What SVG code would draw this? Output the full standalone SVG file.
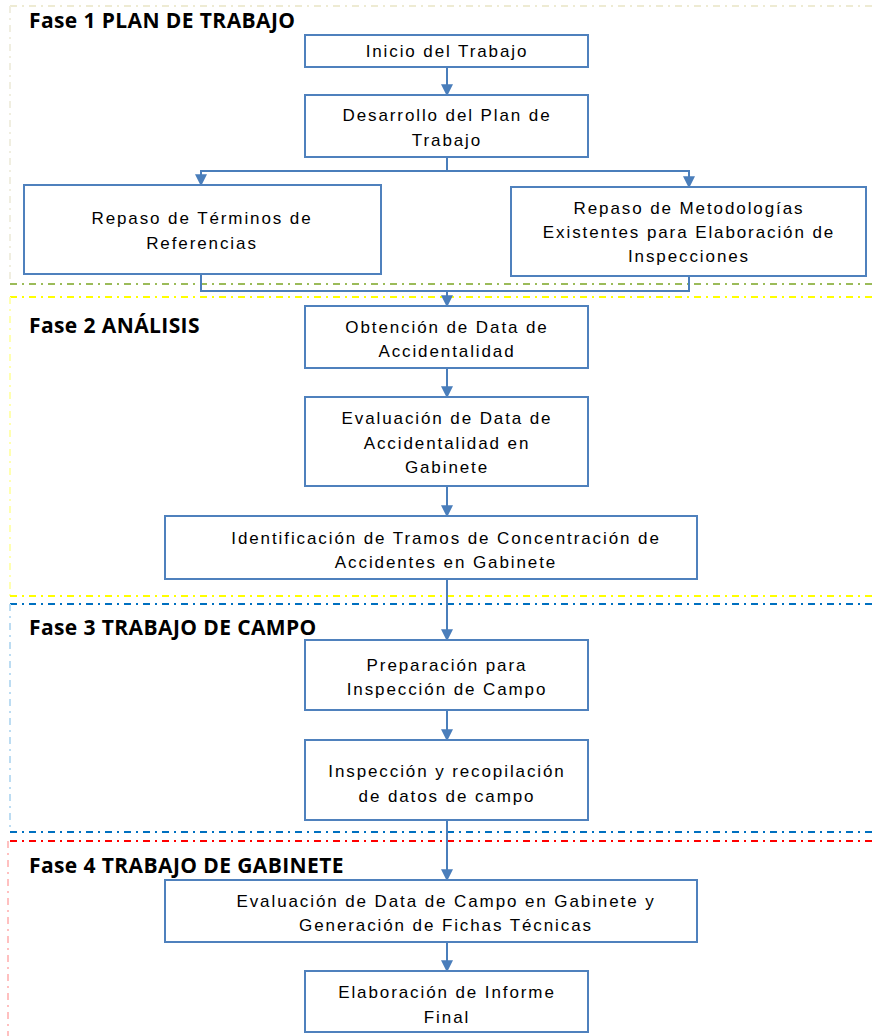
<svg xmlns="http://www.w3.org/2000/svg" width="872" height="1036" viewBox="0 0 872 1036">
<defs>
<style>
.box{fill:#fff;stroke:#4f81bd;stroke-width:2}
.t{font-family:"Liberation Sans",Arial,sans-serif;font-size:17px;fill:#000;text-anchor:middle;letter-spacing:1.9px}
.h{font-family:"Open Sans","Liberation Sans",sans-serif;font-weight:bold;font-size:21px;fill:#000;letter-spacing:0.4px}
.c{fill:none;stroke:#4a7ebb;stroke-width:2}
.dd{fill:none;stroke-width:2;stroke-dasharray:7,5,2,5}
</style>
<marker id="ah" viewBox="0 0 10 10" refX="9" refY="5" markerWidth="6" markerHeight="6" orient="auto" markerUnits="strokeWidth">
<path d="M0,0 L10,5 L0,10 z" fill="#4a7ebb"/>
</marker>
</defs>
<rect width="872" height="1036" fill="#fff"/>
<g id="frames">
<path class="dd" d="M10,6 H872" stroke="#eeebd3"/>
<path class="dd" d="M10,6 V284" stroke="#f0eee0" stroke-width="1"/>
<path class="dd" d="M10,284 H872" stroke="#9bbb59"/>
<path class="dd" d="M10,297 H872" stroke="#ffff00"/>
<path class="dd" d="M10,297 V596" stroke="#ffffb0" stroke-width="1"/>
<path class="dd" d="M10,596 H872" stroke="#ffff00"/>
<path class="dd" d="M10,604 H872" stroke="#0070c0"/>
<path class="dd" d="M10,604 V832" stroke="#bcdcf2" stroke-width="1"/>
<path class="dd" d="M10,832 H872" stroke="#0070c0"/>
<path class="dd" d="M10,841 H872" stroke="#ff0000"/>
<path class="dd" d="M8,841 V1036" stroke="#ffc0c0" stroke-width="1"/>
</g>
<g id="headings">
<text class="h" x="29" y="28">Fase 1 PLAN DE TRABAJO</text>
<text class="h" x="29" y="333">Fase 2 ANÁLISIS</text>
<text class="h" x="29" y="635">Fase 3 TRABAJO DE CAMPO</text>
<text class="h" x="29" y="873">Fase 4 TRABAJO DE GABINETE</text>
</g>
<g id="connectors">
<path class="c" d="M447,67 V95" marker-end="url(#ah)"/>
<path class="c" d="M447,157 V171 H201 V185" marker-end="url(#ah)"/>
<path class="c" d="M447,171 H689 V187" marker-end="url(#ah)"/>
<path class="c" d="M201,274 V291 H689 V276"/>
<path class="c" d="M447,291 V306" marker-end="url(#ah)"/>
<path class="c" d="M447,368 V397" marker-end="url(#ah)"/>
<path class="c" d="M447,486 V516" marker-end="url(#ah)"/>
<path class="c" d="M447,579 V640" marker-end="url(#ah)"/>
<path class="c" d="M447,710 V740" marker-end="url(#ah)"/>
<path class="c" d="M447,820 V880" marker-end="url(#ah)"/>
<path class="c" d="M447,942 V971" marker-end="url(#ah)"/>
</g>
<g id="n1"><rect class="box" x="305" y="35" width="283" height="32"/><text class="t" x="447" y="57">Inicio del Trabajo</text></g>
<g id="n2"><rect class="box" x="305" y="95" width="283" height="62"/><text class="t" x="447" y="121">Desarrollo del Plan de</text><text class="t" x="447" y="146">Trabajo</text></g>
<g id="n3"><rect class="box" x="24" y="185" width="357" height="89"/><text class="t" x="202" y="224">Repaso de Términos de</text><text class="t" x="202" y="249">Referencias</text></g>
<g id="n4"><rect class="box" x="511" y="187" width="355" height="89"/><text class="t" x="689" y="214">Repaso de Metodologías</text><text class="t" x="689" y="238">Existentes para Elaboración de</text><text class="t" x="689" y="262">Inspecciones</text></g>
<g id="n5"><rect class="box" x="305" y="306" width="283" height="62"/><text class="t" x="447" y="333">Obtención de Data de</text><text class="t" x="447" y="357">Accidentalidad</text></g>
<g id="n6"><rect class="box" x="305" y="397" width="283" height="89"/><text class="t" x="447" y="424">Evaluación de Data de</text><text class="t" x="447" y="449">Accidentalidad en</text><text class="t" x="447" y="473">Gabinete</text></g>
<g id="n7"><rect class="box" x="165" y="516" width="532" height="63"/><text class="t" x="446" y="544">Identificación de Tramos de Concentración de</text><text class="t" x="446" y="568">Accidentes en Gabinete</text></g>
<g id="n8"><rect class="box" x="305" y="640" width="283" height="70"/><text class="t" x="447" y="671">Preparación para</text><text class="t" x="447" y="695">Inspección de Campo</text></g>
<g id="n9"><rect class="box" x="305" y="740" width="283" height="80"/><text class="t" x="447" y="777">Inspección y recopilación</text><text class="t" x="447" y="802">de datos de campo</text></g>
<g id="n10"><rect class="box" x="165" y="880" width="532" height="62"/><text class="t" x="446" y="907">Evaluación de Data de Campo en Gabinete y</text><text class="t" x="446" y="931">Generación de Fichas Técnicas</text></g>
<g id="n11"><rect class="box" x="305" y="971" width="283" height="61"/><text class="t" x="447" y="998">Elaboración de Informe</text><text class="t" x="447" y="1023">Final</text></g>
</svg>
